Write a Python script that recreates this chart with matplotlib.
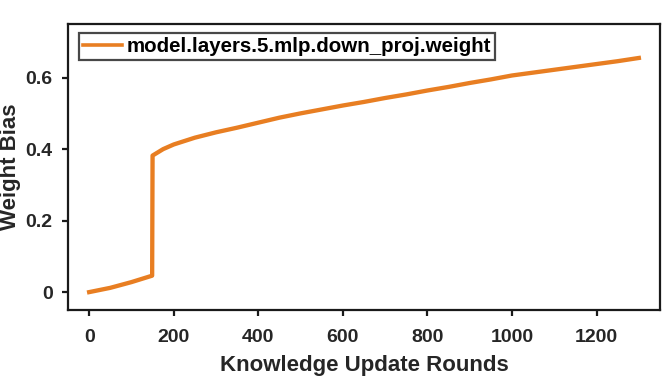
import matplotlib
matplotlib.use("Agg")
import matplotlib.pyplot as plt

rounds = [0, 50, 100, 149, 150, 175, 200, 250, 300, 350, 400, 450, 500, 550, 600, 650,
          700, 750, 800, 850, 900, 950, 1000, 1050, 1100, 1150, 1200, 1250, 1300]
bias = [0.0, 0.012, 0.028, 0.046, 0.382, 0.40, 0.413, 0.432, 0.447, 0.46, 0.474, 0.488,
        0.500, 0.511, 0.522, 0.532, 0.543, 0.553, 0.564, 0.574, 0.585, 0.595, 0.606,
        0.614, 0.622, 0.630, 0.638, 0.646, 0.655]
series_label = "model.layers.5.mlp.down_proj.weight"
xticks = [0, 200, 400, 600, 800, 1000, 1200]
yticks = [0, 0.2, 0.4, 0.6]
ytick_labels = ["0", "0.2", "0.4", "0.6"]

plt.rcParams['font.family'] = ['Liberation Sans', 'DejaVu Sans']
plt.rcParams['font.weight'] = 'bold'

W, H = 664, 378
fig = plt.figure(figsize=(W/100, H/100), dpi=100)
ax = fig.add_axes([68/W, (H-310)/H, (660-68)/W, (310-24)/H])

color = '#E87E22'
ax.plot(rounds, bias, color=color, lw=3.1, label=series_label)

ax.set_xlim(-50, 1350)
ax.set_ylim(-0.05, 0.75)
ax.set_xticks(xticks)
ax.set_xticklabels([str(t) for t in xticks])
ax.set_yticks(yticks)
ax.set_yticklabels(ytick_labels)

for s in ax.spines.values():
    s.set_linewidth(1.6)
    s.set_color('#1a1a1a')
ax.tick_params(axis='both', direction='out', length=4.5, width=1.6, colors='#1a1a1a',
               labelsize=14, top=False, right=False)
ax.tick_params(axis='x', pad=9.5)
ax.tick_params(axis='y', pad=6.5)
for lbl in ax.get_xticklabels() + ax.get_yticklabels():
    lbl.set_fontweight('bold')
    lbl.set_color('#262626')

ax.set_xlabel("Knowledge Update Rounds", fontsize=16, fontweight='bold', color='#262626')
ax.set_ylabel("Weight Bias", fontsize=16, fontweight='bold', color='#262626')
ax.xaxis.set_label_coords(0.5, -(355 - 310) / 286)
ax.yaxis.set_label_coords(-(68 - 21) / 592, 0.5)

leg = ax.legend(loc='upper left', fontsize=14.8, frameon=True, fancybox=False,
                handlelength=1.9, handletextpad=0.2, borderpad=0.2,
                borderaxespad=0.0, bbox_to_anchor=((79 - 68) / 592, 1 - (33 - 24) / 286))
leg.get_frame().set_edgecolor('#1a1a1a')
leg.get_frame().set_linewidth(1.6)
for t in leg.get_texts():
    t.set_fontweight('bold')
for l in leg.get_lines():
    l.set_linewidth(2.6)

fig.savefig("out.png", dpi=100)
